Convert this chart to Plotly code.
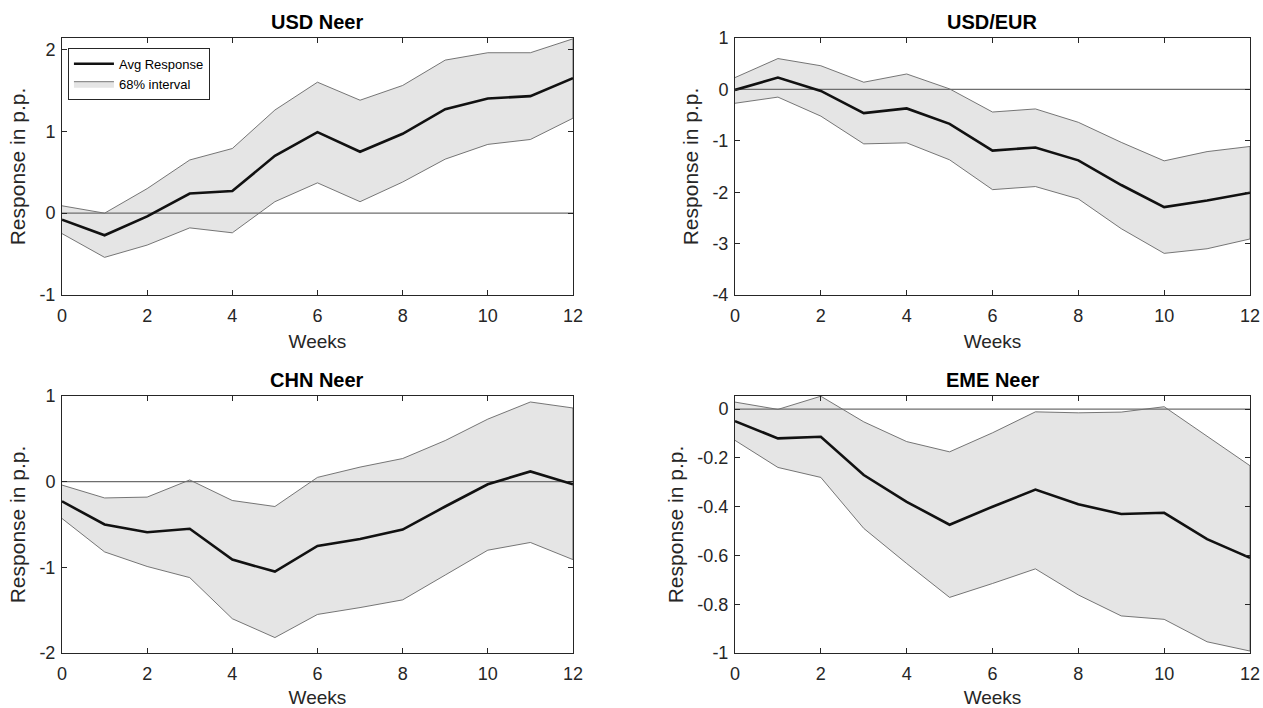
import plotly.graph_objects as go

weeks = list(range(13))

titles = ["USD Neer", "USD/EUR", "CHN Neer", "EME Neer"]

usd_neer_avg = [-0.08, -0.27, -0.04, 0.24, 0.27, 0.70, 0.99, 0.75, 0.97, 1.27, 1.40, 1.43, 1.65]
usd_neer_hi = [0.09, 0.00, 0.30, 0.65, 0.79, 1.26, 1.60, 1.38, 1.56, 1.87, 1.96, 1.96, 2.13]
usd_neer_lo = [-0.25, -0.54, -0.39, -0.18, -0.24, 0.14, 0.37, 0.14, 0.38, 0.66, 0.84, 0.90, 1.16]

usd_eur_avg = [-0.01, 0.23, -0.03, -0.46, -0.37, -0.67, -1.19, -1.13, -1.38, -1.86, -2.29, -2.16, -2.01]
usd_eur_hi = [0.23, 0.60, 0.46, 0.14, 0.30, 0.01, -0.44, -0.38, -0.64, -1.03, -1.39, -1.21, -1.11]
usd_eur_lo = [-0.27, -0.15, -0.52, -1.06, -1.04, -1.37, -1.95, -1.89, -2.13, -2.71, -3.19, -3.10, -2.91]

chn_neer_avg = [-0.23, -0.50, -0.59, -0.55, -0.91, -1.05, -0.75, -0.67, -0.56, -0.29, -0.03, 0.12, -0.03]
chn_neer_hi = [-0.04, -0.19, -0.18, 0.02, -0.22, -0.29, 0.05, 0.17, 0.27, 0.48, 0.73, 0.93, 0.86]
chn_neer_lo = [-0.43, -0.82, -0.99, -1.12, -1.60, -1.82, -1.55, -1.47, -1.38, -1.09, -0.80, -0.71, -0.91]

eme_neer_avg = [-0.049, -0.12, -0.113, -0.27, -0.38, -0.474, -0.40, -0.33, -0.39, -0.43, -0.425, -0.533, -0.61]
eme_neer_hi = [0.029, -0.001, 0.053, -0.052, -0.133, -0.175, -0.097, -0.011, -0.015, -0.012, 0.01, -0.11, -0.232]
eme_neer_lo = [-0.128, -0.239, -0.28, -0.489, -0.633, -0.772, -0.715, -0.655, -0.762, -0.848, -0.862, -0.954, -0.992]

y_ranges = [[-1, 2.14], [-4, 1], [-2, 1], [-1, 0.054]]
y_ticks = [[-1, 0, 1, 2], [-4, -3, -2, -1, 0, 1], [-2, -1, 0, 1],
           [-1, -0.8, -0.6, -0.4, -0.2, 0]]
y_ticktext = [["-1", "0", "1", "2"], ["-4", "-3", "-2", "-1", "0", "1"],
              ["-2", "-1", "0", "1"], ["-1", "-0.8", "-0.6", "-0.4", "-0.2", "0"]]

series = [
    (usd_neer_avg, usd_neer_hi, usd_neer_lo),
    (usd_eur_avg, usd_eur_hi, usd_eur_lo),
    (chn_neer_avg, chn_neer_hi, chn_neer_lo),
    (eme_neer_avg, eme_neer_hi, eme_neer_lo),
]

FONT = "Liberation Sans, Arial, Helvetica, sans-serif"
TXT = "#262626"

fig = go.Figure()

doms_x = [[0, 0.4301], [0.5665, 1.0]]
doms_y = [[0.5821, 1.0], [0.0, 0.4179]]

positions = [(0, 0), (0, 1), (1, 0), (1, 1)]

for i, ((avg, hi, lo), (r, c)) in enumerate(zip(series, positions)):
    n = i + 1
    xa = "x" if n == 1 else f"x{n}"
    ya = "y" if n == 1 else f"y{n}"
    poly_x = weeks + weeks[::-1]
    poly_y = hi + lo[::-1]
    fig.add_trace(go.Scatter(
        x=poly_x, y=poly_y, fill="toself", fillcolor="#e5e5e5",
        line=dict(color="#555555", width=0.8), mode="lines",
        name="68% interval", showlegend=(n == 1), legendrank=2,
        xaxis=xa, yaxis=ya, hoverinfo="skip"))
    fig.add_trace(go.Scatter(
        x=[weeks[0], weeks[-1]], y=[0, 0], mode="lines",
        line=dict(color="#6e6e6e", width=1.2), showlegend=False,
        xaxis=xa, yaxis=ya, hoverinfo="skip"))
    fig.add_trace(go.Scatter(
        x=weeks, y=avg, mode="lines", line=dict(color="#111111", width=2.6),
        name="Avg Response", showlegend=(n == 1), legendrank=1,
        xaxis=xa, yaxis=ya))

    axis_common = dict(
        showline=True, linecolor="#262626", linewidth=1, mirror="allticks",
        ticks="inside", ticklen=5, tickcolor="#262626", showgrid=False,
        zeroline=False, automargin=False,
        tickfont=dict(family=FONT, size=18, color=TXT),
    )
    xkey = "xaxis" if n == 1 else f"xaxis{n}"
    ykey = "yaxis" if n == 1 else f"yaxis{n}"
    fig.layout[xkey] = dict(
        axis_common, domain=doms_x[c], range=[0, 12], tickvals=list(range(0, 13, 2)),
        anchor=ya, ticklabelstandoff=4,
        title=dict(text="Weeks", font=dict(family=FONT, size=19, color=TXT), standoff=10),
    )
    fig.layout[ykey] = dict(
        axis_common, domain=doms_y[r], range=y_ranges[i], tickvals=y_ticks[i],
        ticktext=y_ticktext[i], anchor=xa, ticklabelstandoff=2,
        title=dict(text="Response in p.p.", font=dict(family=FONT, size=21, color=TXT), standoff=8),
    )
    cx = (doms_x[c][0] + doms_x[c][1]) / 2
    fig.add_annotation(
        text=f"<b>{titles[i]}</b>", x=cx, y=doms_y[r][1], xref="paper", yref="paper",
        xanchor="center", yanchor="bottom", yshift=3, showarrow=False,
        font=dict(family=FONT, size=20, color="#000000"))

fig.update_layout(
    width=1263, height=708,
    margin=dict(l=62, r=13, t=38, b=55),
    paper_bgcolor="white", plot_bgcolor="white",
    showlegend=True,
    legend=dict(
        x=0.005, y=0.984, xanchor="left", yanchor="top",
        bgcolor="white", bordercolor="#262626", borderwidth=1,
        font=dict(family=FONT, size=13, color="#000000"),
        traceorder="normal", itemwidth=40, tracegroupgap=0,
    ),
)

fig.write_html("out.html")
